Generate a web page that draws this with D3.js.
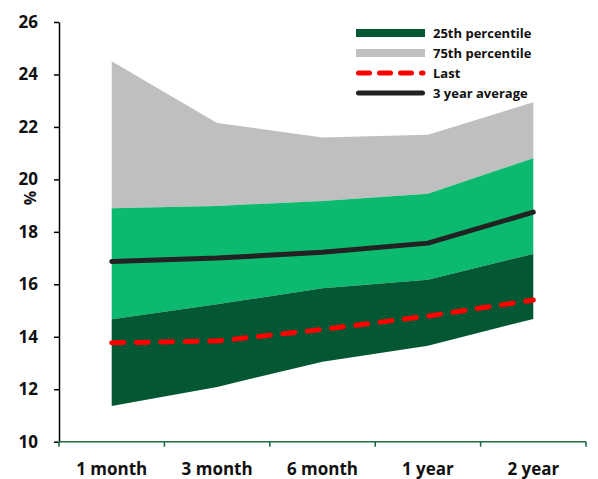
<!DOCTYPE html>
<html>
<head>
<meta charset="utf-8">
<script src="https://cdn.jsdelivr.net/npm/d3@7/dist/d3.min.js"></script>
<style>
  html, body { margin: 0; padding: 0; background: #fff; }
  svg { display: block; font-family: "Open Sans", Lato, sans-serif; }
</style>
</head>
<body>
<svg id="chart" width="598" height="479"></svg>
<script>
// Tenors on the horizontal axis
const categories = ["1 month", "3 month", "6 month", "1 year", "2 year"];
// Historical range per tenor (%)
const minValues = [11.36, 12.09, 13.05, 13.66, 14.68];
const p25Values = [14.67, 15.24, 15.85, 16.17, 17.16];
const p75Values = [18.90, 18.99, 19.18, 19.45, 20.81];
const maxValues = [24.50, 22.15, 21.60, 21.70, 22.94];
// Latest reading and three-year average (%)
const lastValues = [13.77, 13.84, 14.28, 14.79, 15.40];
const avgValues = [16.87, 17.00, 17.22, 17.57, 18.75];
const yTicks = [10, 12, 14, 16, 18, 20, 22, 24, 26];
const legendItems = [
  { label: "25th percentile", kind: "rect", color: "#045733" },
  { label: "75th percentile", kind: "rect", color: "#bfbfbf" },
  { label: "Last", kind: "dash", color: "#ff0000" },
  { label: "3 year average", kind: "line", color: "#222222" }
];

const svg = d3.select("#chart");
const plotLeft = 59, plotRight = 586, plotTop = 22, plotBottom = 441.7;

const x = d3.scaleBand().domain(categories).range([plotLeft, plotRight]).padding(0);
const cx = c => x(c) + x.bandwidth() / 2;
const y = d3.scaleLinear().domain([10, 26]).range([plotBottom, plotTop]);

const rows = categories.map((c, i) => ({
  c, min: minValues[i], p25: p25Values[i], p75: p75Values[i], max: maxValues[i],
  last: lastValues[i], avg: avgValues[i]
}));

// Stacked bands: min→25th, 25th→75th, 75th→max
const band = (lo, hi) => d3.area().x(d => cx(d.c)).y0(d => y(d[lo])).y1(d => y(d[hi]));
svg.append("path").datum(rows).attr("d", band("p75", "max")).attr("fill", "#bfbfbf");
svg.append("path").datum(rows).attr("d", band("p25", "p75")).attr("fill", "#0bba6f");
svg.append("path").datum(rows).attr("d", band("min", "p25")).attr("fill", "#045733");

// Three-year average
svg.append("path").datum(rows)
  .attr("d", d3.line().x(d => cx(d.c)).y(d => y(d.avg)))
  .attr("fill", "none").attr("stroke", "#222222").attr("stroke-width", 5)
  .attr("stroke-linecap", "round").attr("stroke-linejoin", "round");

// Latest reading
svg.append("path").datum(rows)
  .attr("d", d3.line().x(d => cx(d.c)).y(d => y(d.last)))
  .attr("fill", "none").attr("stroke", "#ff0000").attr("stroke-width", 5)
  .attr("stroke-dasharray", "12,12.5").attr("stroke-linecap", "round");

// Y axis
const yAxis = svg.append("g").attr("transform", `translate(${plotLeft},0)`)
  .call(d3.axisLeft(y).tickValues(yTicks).tickSize(5).tickPadding(16).tickSizeOuter(0));
yAxis.select(".domain").attr("stroke", "#000").attr("stroke-width", 1.5);
yAxis.selectAll(".tick line").attr("stroke", "#000").attr("stroke-width", 1.5);
yAxis.selectAll(".tick text").attr("font-size", 17).attr("font-weight", 700)
  .attr("fill", "#111").attr("font-family", "'Open Sans', sans-serif");

// X axis with ticks at band boundaries
const xAxisG = svg.append("g").attr("transform", `translate(0,${plotBottom})`);
xAxisG.append("line").attr("x1", plotLeft).attr("x2", plotRight).attr("y1", 0).attr("y2", 0)
  .attr("stroke", "#1e6b45").attr("stroke-width", 1.6);
const boundaries = categories.map(c => x(c)).concat([plotRight]);
xAxisG.selectAll("line.tk").data(boundaries).enter().append("line").attr("class", "tk")
  .attr("x1", d => d).attr("x2", d => d).attr("y1", 0).attr("y2", 5)
  .attr("stroke", "#1e6b45").attr("stroke-width", 1.6);
xAxisG.selectAll("text").data(categories).enter().append("text")
  .attr("x", d => cx(d)).attr("y", 33).attr("text-anchor", "middle")
  .attr("font-size", 17).attr("font-weight", 700).attr("fill", "#111")
  .text(d => d);

// Axis title
svg.append("text").attr("transform", `translate(36,198) rotate(-90)`)
  .attr("text-anchor", "middle").attr("font-size", 16).attr("font-weight", 700)
  .attr("fill", "#111").text("%");

// Legend
const lg = svg.append("g").attr("transform", "translate(356,33)");
legendItems.forEach((it, i) => {
  const g = lg.append("g").attr("transform", `translate(0,${i * 20})`);
  if (it.kind === "rect") {
    g.append("rect").attr("x", 0).attr("y", -4).attr("width", 69).attr("height", 8).attr("fill", it.color);
  } else if (it.kind === "dash") {
    g.append("line").attr("x1", 2.5).attr("x2", 67).attr("y1", 0).attr("y2", 0)
      .attr("stroke", it.color).attr("stroke-width", 5).attr("stroke-linecap", "round")
      .attr("stroke-dasharray", "11,10");
  } else {
    g.append("line").attr("x1", 2.5).attr("x2", 66.5).attr("y1", 0).attr("y2", 0)
      .attr("stroke", it.color).attr("stroke-width", 5).attr("stroke-linecap", "round");
  }
  g.append("text").attr("x", 77).attr("y", 4.5).attr("font-size", 13).attr("font-weight", 700)
    .attr("fill", "#111").text(it.label);
});
</script>
</body>
</html>
